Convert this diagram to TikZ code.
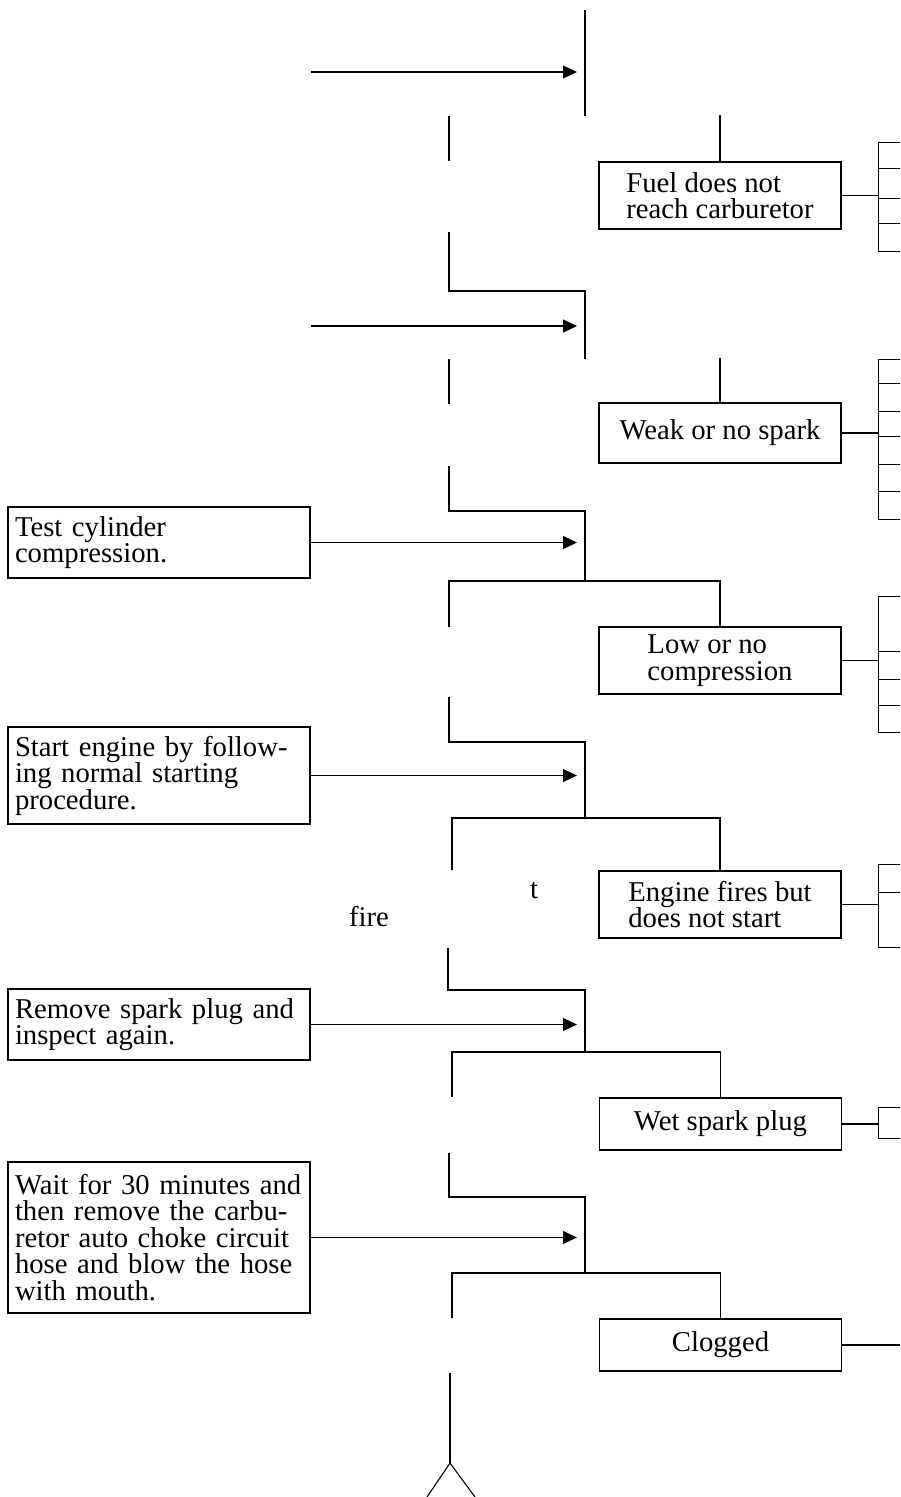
\documentclass[tikz,border=0pt]{standalone}
\usepackage{fontspec}
\setmainfont{Liberation Serif}
\usetikzlibrary{arrows.meta, positioning}

\begin{document}
\begin{tikzpicture}[
  x=1pt, y=-1pt,
  ln/.style={line width=1.1pt},
  arr/.style={ln, -{Triangle[length=14pt, width=13pt]}},
  tick/.style={line width=0.9pt},
  txt/.style={font=\fontsize{28.7pt}{26.5pt}\selectfont},
  act/.style={draw, ln, txt, minimum width=302pt, text width=288pt,
    inner xsep=7pt, align=left},
  res/.style={draw, ln, txt, minimum width=242pt, align=left},
  lbl/.style={txt, inner sep=0pt}
]
  \useasboundingbox (0,0) rectangle (900,1497);

  % Steps on the left
  \node[act, minimum height=71pt] (tst) at (159,542.5)
    {Test cylinder\\compression.};
  \node[act, minimum height=97pt] (strt) at (159,775.5)
    {Start engine by follow-\\ing normal starting\\procedure.};
  \node[act, minimum height=71pt] (rmv) at (159,1024.5)
    {Remove spark plug and\\inspect again.};
  \node[act, minimum height=151pt] (wait) at (159,1237.5)
    {Wait for 30 minutes and\\then remove the carbu-\\retor auto choke circuit\\hose and blow the hose\\with mouth.};

  % Findings on the right
  \node[res, minimum height=67pt] (fuel) at (720,195.5)
    {Fuel does not\\reach carburetor};
  \node[res, minimum height=60pt] (spark) at (720,433) {Weak or no spark};
  \node[res, minimum height=67pt] (comp) at (720,660.5)
    {Low or no\\compression};
  \node[res, minimum height=67pt] (fires) at (720,904.5)
    {Engine fires but\\does not start};
  \node[res, minimum height=52pt] (wet) at (720.5,1124) {Wet spark plug};
  \node[res, minimum height=52pt] (clog) at (720.5,1345) {Clogged};

  % Loose labels
  \node[lbl] (tlbl) at (534,891) {t};
  \node[lbl] (firelbl) at (369,917) {fire};

  % Arrows into the checks
  \coordinate (in1) at (311,72);
  \coordinate (in2) at (311,326);
  \coordinate (hd) at (577,0);
  \draw[arr] (in1) -- (in1 -| hd);
  \draw[arr] (in2) -- (in2 -| hd);
  \foreach \src in {tst, strt, rmv, wait}
    \draw[arr] (\src.east) -- (\src.east -| hd);

  % Check stems and branches
  \draw[ln] (585,10) -- (585,116);
  \draw[ln] (449,116) -- (449,161);
  \draw[ln] (fuel.north) -- ++(0,-46);
  \draw[ln] (449,232) |- (585,291) -- (585,359);
  \draw[ln] (449,359) -- (449,404);
  \draw[ln] (spark.north) -- ++(0,-44);
  \draw[ln] (449,466) |- (585,511) -- (585,581);
  \draw[ln] (449,627) -- (449,581) -| (comp.north);
  \draw[ln] (449,697) |- (585,742) -- (585,818);
  \draw[ln] (452,870) -- (452,818) -| (fires.north);
  \draw[ln] (448,948) |- (585,990) -- (585,1052);
  \draw[ln] (452,1097) -- (452,1052) -| (wet.north);
  \draw[ln] (449,1153) |- (585,1197) -- (585,1273);
  \draw[ln] (452,1318) -- (452,1273) -| (clog.north);

  % Fork at the bottom
  \draw[ln] (450,1373) -- (450,1463) coordinate (fork);
  \draw[ln] (fork) -- (427,1497);
  \draw[ln] (fork) -- (475,1497);

  % Causes brackets
  \coordinate (brk) at (878,0);
  \coordinate (edge) at (900,0);
  \foreach \nd/\lo/\hi/\ticks in {
      fuel/142/251/{142,168,198,223,251},
      spark/359/519/{359,383,411,436,464,491,519},
      comp/596/732/{596,651,679,705,732},
      fires/864/947/{864,892,947},
      wet/1107/1138/{1107,1138}} {
    \draw[ln] (\nd.east) -- (\nd.east -| brk);
    \draw[tick] (878,\lo) -- (878,\hi);
    \foreach \yy in \ticks
      \draw[tick] (878,\yy) -- (900,\yy);
  }
  \draw[ln] (clog.east) -- (clog.east -| edge);
\end{tikzpicture}
\end{document}
